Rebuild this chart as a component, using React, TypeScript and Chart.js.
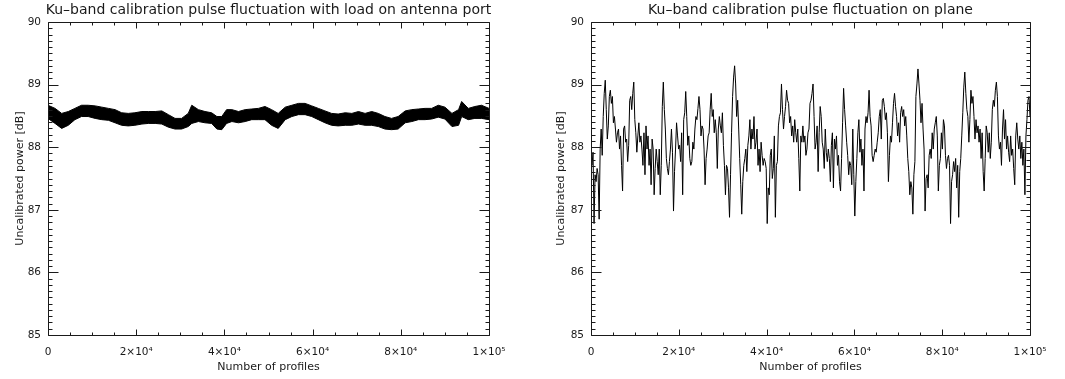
import React, { useEffect, useRef } from "react";
import { Chart, registerables } from "chart.js";

Chart.register(...registerables);

// ---------- DATA ----------
const LEFT_TITLE = "Ku–band calibration pulse fluctuation with load on antenna port";
const RIGHT_TITLE = "Ku–band calibration pulse fluctuation on plane";
const X_TITLE = "Number of profiles";
const Y_TITLE = "Uncalibrated power [dB]";

const Y_MIN = 85;
const Y_MAX = 90;
const X_MIN = 0;
const X_MAX = 100000;

// Load on antenna port: envelope of the dense noisy trace (profile number, upper dB, lower dB)
const loadProfiles = [
  0, 1600, 3100, 4600, 6100, 7600, 9100, 10700, 12200, 13700, 15200, 16700, 18200, 19700,
  21300, 22800, 24300, 25800, 27300, 28800, 30300, 31800, 32600, 34100, 35600, 37100, 38300,
  39400, 40500, 41700, 43200, 44700, 46200, 47700, 49200, 50700, 52200, 53800, 55300, 56800,
  58300, 59800, 61300, 62800, 64300, 65800, 67400, 68900, 70400, 71900, 73400, 74900, 76400,
  77900, 79400, 81000, 82500, 84000, 85500, 87000, 88500, 90000, 91600, 93100, 93800, 95300,
  96800, 98300, 100000,
];
const loadUpper = [
  88.67, 88.62, 88.54, 88.57, 88.62, 88.67, 88.67, 88.66, 88.64, 88.62, 88.6, 88.55, 88.54, 88.55,
  88.57, 88.57, 88.57, 88.58, 88.52, 88.46, 88.46, 88.54, 88.67, 88.6, 88.57, 88.55, 88.49,
  88.49, 88.6, 88.6, 88.57, 88.6, 88.61, 88.62, 88.65, 88.6, 88.54, 88.64, 88.67, 88.7,
  88.7, 88.66, 88.62, 88.58, 88.54, 88.53, 88.55, 88.54, 88.57, 88.54, 88.57, 88.54, 88.49,
  88.46, 88.49, 88.58, 88.6, 88.61, 88.62, 88.62, 88.67, 88.64, 88.54, 88.6, 88.73, 88.62,
  88.65, 88.67, 88.62,
];
const loadLower = [
  88.46, 88.38, 88.3, 88.35, 88.44, 88.49, 88.49, 88.46, 88.44, 88.43, 88.39, 88.35, 88.34, 88.35,
  88.37, 88.38, 88.38, 88.37, 88.32, 88.29, 88.29, 88.33, 88.38, 88.41, 88.39, 88.38, 88.29,
  88.28, 88.38, 88.41, 88.39, 88.41, 88.44, 88.44, 88.44, 88.35, 88.3, 88.44, 88.49, 88.52,
  88.52, 88.49, 88.44, 88.39, 88.35, 88.34, 88.35, 88.35, 88.37, 88.35, 88.35, 88.33, 88.29,
  88.28, 88.29, 88.39, 88.41, 88.44, 88.44, 88.45, 88.48, 88.45, 88.33, 88.35, 88.49, 88.44,
  88.46, 88.46, 88.44,
];

// On plane: power per sample, evenly spread over 0 .. 1e5 profiles
const planePower = [
  87.82, 87.71, 87.92, 86.78, 87.56, 87.45, 87.66, 87.56, 86.85, 87.97, 88.29, 87.87, 88.49, 88.86,
  89.07, 88.6, 88.13, 88.34, 88.81, 88.91, 88.7, 88.81, 88.39, 88.49, 88.29, 88.08, 88.23, 88.29,
  87.97, 88.18, 87.71, 87.3, 88.29, 88.34, 88.08, 88.13, 87.77, 88.03, 88.75, 88.81, 88.6, 88.86,
  89.04, 88.44, 88.23, 87.92, 88.18, 88.39, 88.08, 88.18, 87.97, 87.71, 88.23, 87.56, 88.34, 87.97,
  88.18, 87.71, 87.97, 87.4, 88.13, 87.97, 87.24, 87.66, 87.97, 87.77, 87.56, 87.97, 87.24, 87.71,
  88.65, 89.04, 88.6, 88.29, 87.82, 87.66, 87.56, 87.77, 87.97, 88.29, 87.92, 86.98, 87.61, 87.97,
  88.39, 88.18, 87.97, 88.03, 87.77, 88.23, 87.24, 88.44, 88.55, 88.89, 88.49, 88.03, 88.18, 87.82,
  87.71, 87.77, 88.08, 87.97, 88.29, 88.49, 88.44, 88.62, 88.81, 88.6, 88.18, 88.34, 88.29, 87.97,
  87.4, 87.82, 87.97, 88.18, 88.23, 88.6, 88.86, 88.49, 88.6, 88.23, 88.44, 88.23, 87.66, 88.29,
  88.49, 88.34, 88.23, 88.55, 88.03, 87.71, 87.24, 87.71, 87.66, 87.35, 86.88, 87.56, 88.23, 88.81,
  89.12, 89.3, 89.01, 88.49, 88.75, 88.29, 87.82, 87.4, 86.93, 87.45, 87.71, 87.82, 87.97, 87.61,
  88.03, 88.18, 88.44, 87.97, 88.29, 88.13, 88.49, 87.97, 88.08, 88.29, 87.71, 87.97, 87.61, 88.08,
  87.87, 87.71, 87.82, 87.77, 87.66, 86.78, 87.35, 87.24, 87.87, 87.97, 87.5, 87.66, 88.18, 86.88,
  87.71, 87.77, 88.34, 88.49, 88.55, 89.01, 88.6, 88.29, 88.49, 88.65, 88.91, 88.75, 88.7, 88.39,
  88.49, 88.18, 88.34, 88.08, 88.44, 88.23, 88.08, 88.29, 87.82, 87.3, 88.18, 88.08,
  88.34, 88.08, 88.18, 87.87, 87.97, 88.23, 88.29, 88.7, 88.75, 88.86, 89.01, 88.49, 87.97, 88.08,
  88.34, 87.61, 88.23, 88.65, 88.49, 88.08, 87.97, 87.66, 88.29, 87.92, 87.77, 87.97, 87.82, 87.45,
  88.03, 88.23, 87.35, 88.13, 87.97, 88.18, 87.71, 87.87, 87.45, 87.3, 87.82, 88.39, 88.94, 88.6,
  88.34, 88.08, 87.87, 87.56, 87.77, 87.71, 87.4, 88.29, 87.56, 86.9, 87.45, 87.82, 88.23, 88.44,
  87.92, 88.13, 87.71, 87.97, 87.3, 88.29, 88.49, 88.39, 88.55, 88.91, 88.49, 88.34, 87.87, 87.77,
  87.87, 87.97, 87.92, 88.08, 88.23, 88.49, 88.6, 88.13, 88.75, 88.78, 88.65, 88.44, 88.55, 88.23,
  87.45, 87.87, 88.18, 88.08, 88.39, 88.7, 88.86, 88.65, 88.49, 88.18, 88.39, 88.08, 88.55, 88.65,
  88.49, 88.6, 88.34, 88.49, 88.18, 87.82, 87.61, 87.24, 87.45, 87.35, 86.93, 87.56, 87.77, 88.81,
  89.01, 89.25, 89.01, 88.75, 88.39, 88.7, 88.29, 87.97, 86.98, 87.5, 87.56, 87.35, 87.87, 87.97,
  87.82, 88.23, 87.97, 88.29, 88.39, 88.49, 88.18, 87.3, 87.71, 87.82, 88.23, 87.97, 88.44, 88.34,
  87.87, 87.66, 87.82, 87.87, 87.71, 86.78, 87.45, 87.56, 87.77, 87.61, 87.82, 87.35, 87.71, 86.88,
  87.61, 87.82, 88.18, 88.55, 88.96, 89.2, 88.86, 88.6, 88.49, 88.08, 88.44, 88.91, 88.7, 88.81,
  88.49, 88.13, 88.44, 88.23, 88.34, 88.08, 88.29, 87.82, 88.23, 87.61, 87.3, 87.82, 88.34, 88.23,
  87.92, 88.23, 87.82, 88.08, 88.6, 88.75, 88.65, 88.91, 89.04, 88.81, 88.18, 87.97, 88.08, 87.71,
  88.29, 88.6, 88.13, 88.44, 87.97, 88.18, 87.92, 87.77, 88.18, 87.87, 87.97, 87.66, 87.4, 88.18,
  88.39, 88.13, 87.97, 88.18, 87.82, 88.08, 87.71, 87.97, 87.24, 88.18, 88.44, 88.75, 88.81, 88.49,
];

// ---------- helpers ----------
const SUP: Record<string, string> = {
  "0": "⁰", "1": "¹", "2": "²", "3": "³", "4": "⁴", "5": "⁵", "6": "⁶", "7": "⁷", "8": "⁸", "9": "⁹",
};
function sciLabel(v: number): string {
  if (v === 0) return "0";
  const e = Math.floor(Math.log10(v) + 1e-9);
  const m = Math.round(v / Math.pow(10, e));
  return `${m}×10${String(e).split("").map((c) => SUP[c]).join("")}`;
}

const FONT = "'DejaVu Sans', sans-serif";
const INK = "#1a1a1a";

const framePlugin = {
  id: "idlFrame",
  afterDatasetsDraw(chart: any, _args: any, opts: any) {
    const { ctx, chartArea: a, scales } = chart;
    const xs = scales.x;
    const ys = scales.y;
    ctx.save();
    ctx.strokeStyle = INK;
    ctx.lineWidth = 1;
    ctx.beginPath();
    const L = Math.round(a.left) + 0.5;
    const R = Math.round(a.right) + 0.5;
    const T = Math.round(a.top) + 0.5;
    const B = Math.round(a.bottom) + 0.5;
    ctx.rect(L, T, R - L, B - T);
    for (let i = 0; i <= 50; i++) {
      const v = Y_MIN + i * 0.1;
      const y = Math.round(ys.getPixelForValue(v)) + 0.5;
      const len = i % 10 === 0 ? 10 : 4;
      ctx.moveTo(L, y);
      ctx.lineTo(L + len, y);
      ctx.moveTo(R, y);
      ctx.lineTo(R - len, y);
    }
    for (let i = 0; i <= 20; i++) {
      const v = X_MIN + i * 5000;
      const x = Math.round(xs.getPixelForValue(v)) + 0.5;
      const len = i % 4 === 0 ? 6 : 3;
      ctx.moveTo(x, B);
      ctx.lineTo(x, B - len);
      ctx.moveTo(x, T);
      ctx.lineTo(x, T + len);
    }
    ctx.stroke();
    // title centred over the plot area
    ctx.fillStyle = INK;
    ctx.font = `14px ${FONT}`;
    ctx.textAlign = "center";
    ctx.textBaseline = "middle";
    ctx.fillText(opts.text, (a.left + a.right) / 2, 10);
    ctx.restore();
  },
};

type PanelProps = {
  left: number;
  width: number;
  axisLeft: number;
  padRight: number;
  yTitlePad: number;
  title: string;
  datasets: any[];
};

function Panel(p: PanelProps) {
  const ref = useRef<HTMLCanvasElement | null>(null);
  useEffect(() => {
    if (!ref.current) return;
    const chart = new Chart(ref.current, {
      type: "line",
      data: { datasets: p.datasets },
      plugins: [framePlugin],
      options: {
        animation: false,
        responsive: false,
        maintainAspectRatio: false,
        parsing: false,
        normalized: true,
        layout: { padding: { left: 0, right: p.padRight, top: 22, bottom: 0 } },
        plugins: {
          legend: { display: false },
          tooltip: { enabled: false },
          title: { display: false },
          idlFrame: { text: p.title },
        } as any,
        elements: { point: { radius: 0 }, line: { tension: 0 } },
        scales: {
          x: {
            type: "linear",
            min: X_MIN,
            max: X_MAX,
            grid: { display: false, drawTicks: false, tickLength: 0 },
            border: { display: false },
            afterFit: (s: any) => {
              s.height = 44;
            },
            ticks: {
              stepSize: 20000,
              autoSkip: false,
              maxRotation: 0,
              padding: 11,
              color: INK,
              font: { family: FONT, size: 10.5 },
              callback: (v: any) => sciLabel(Number(v)),
            },
            title: {
              display: true,
              text: X_TITLE,
              color: INK,
              font: { family: FONT, size: 11 },
              padding: { top: 0, bottom: 5 },
            },
          },
          y: {
            type: "linear",
            min: Y_MIN,
            max: Y_MAX,
            grid: { display: false, drawTicks: false, tickLength: 0 },
            border: { display: false },
            afterFit: (s: any) => {
              s.width = p.axisLeft;
            },
            ticks: {
              stepSize: 1,
              padding: 7,
              color: INK,
              font: { family: FONT, size: 10.5 },
              callback: (v: any) => String(v),
            },
            title: {
              display: true,
              text: Y_TITLE,
              color: INK,
              font: { family: FONT, size: 11 },
              padding: { top: p.yTitlePad, bottom: 0 },
            },
          },
        },
      },
    });
    return () => chart.destroy();
  }, []);
  return (
    <canvas
      ref={ref}
      width={p.width}
      height={379}
      style={{ position: "absolute", left: p.left, top: 0, width: p.width, height: 379 }}
    />
  );
}

export default function App() {
  const loadUpperPts = loadProfiles.map((x, i) => ({ x, y: loadUpper[i] }));
  const loadLowerPts = loadProfiles.map((x, i) => ({ x, y: loadLower[i] }));
  const n = planePower.length;
  const planePts = planePower.map((y, i) => ({ x: (i * X_MAX) / (n - 1), y }));

  const leftSets = [
    { data: loadUpperPts, borderColor: "#000", borderWidth: 1, backgroundColor: "#000", fill: "+1" },
    { data: loadLowerPts, borderColor: "#000", borderWidth: 1, fill: false },
  ];
  const rightSets = [{ data: planePts, borderColor: "#000", borderWidth: 1, fill: false }];

  return (
    <div style={{ position: "fixed", left: 0, top: 0, width: 1065, height: 379, background: "#fff", overflow: "hidden" }}>
      <Panel left={0} width={532} axisLeft={48} padRight={43} yTitlePad={14} title={LEFT_TITLE} datasets={leftSets} />
      <Panel left={532} width={533} axisLeft={59} padRight={35} yTitlePad={23} title={RIGHT_TITLE} datasets={rightSets} />
    </div>
  );
}
